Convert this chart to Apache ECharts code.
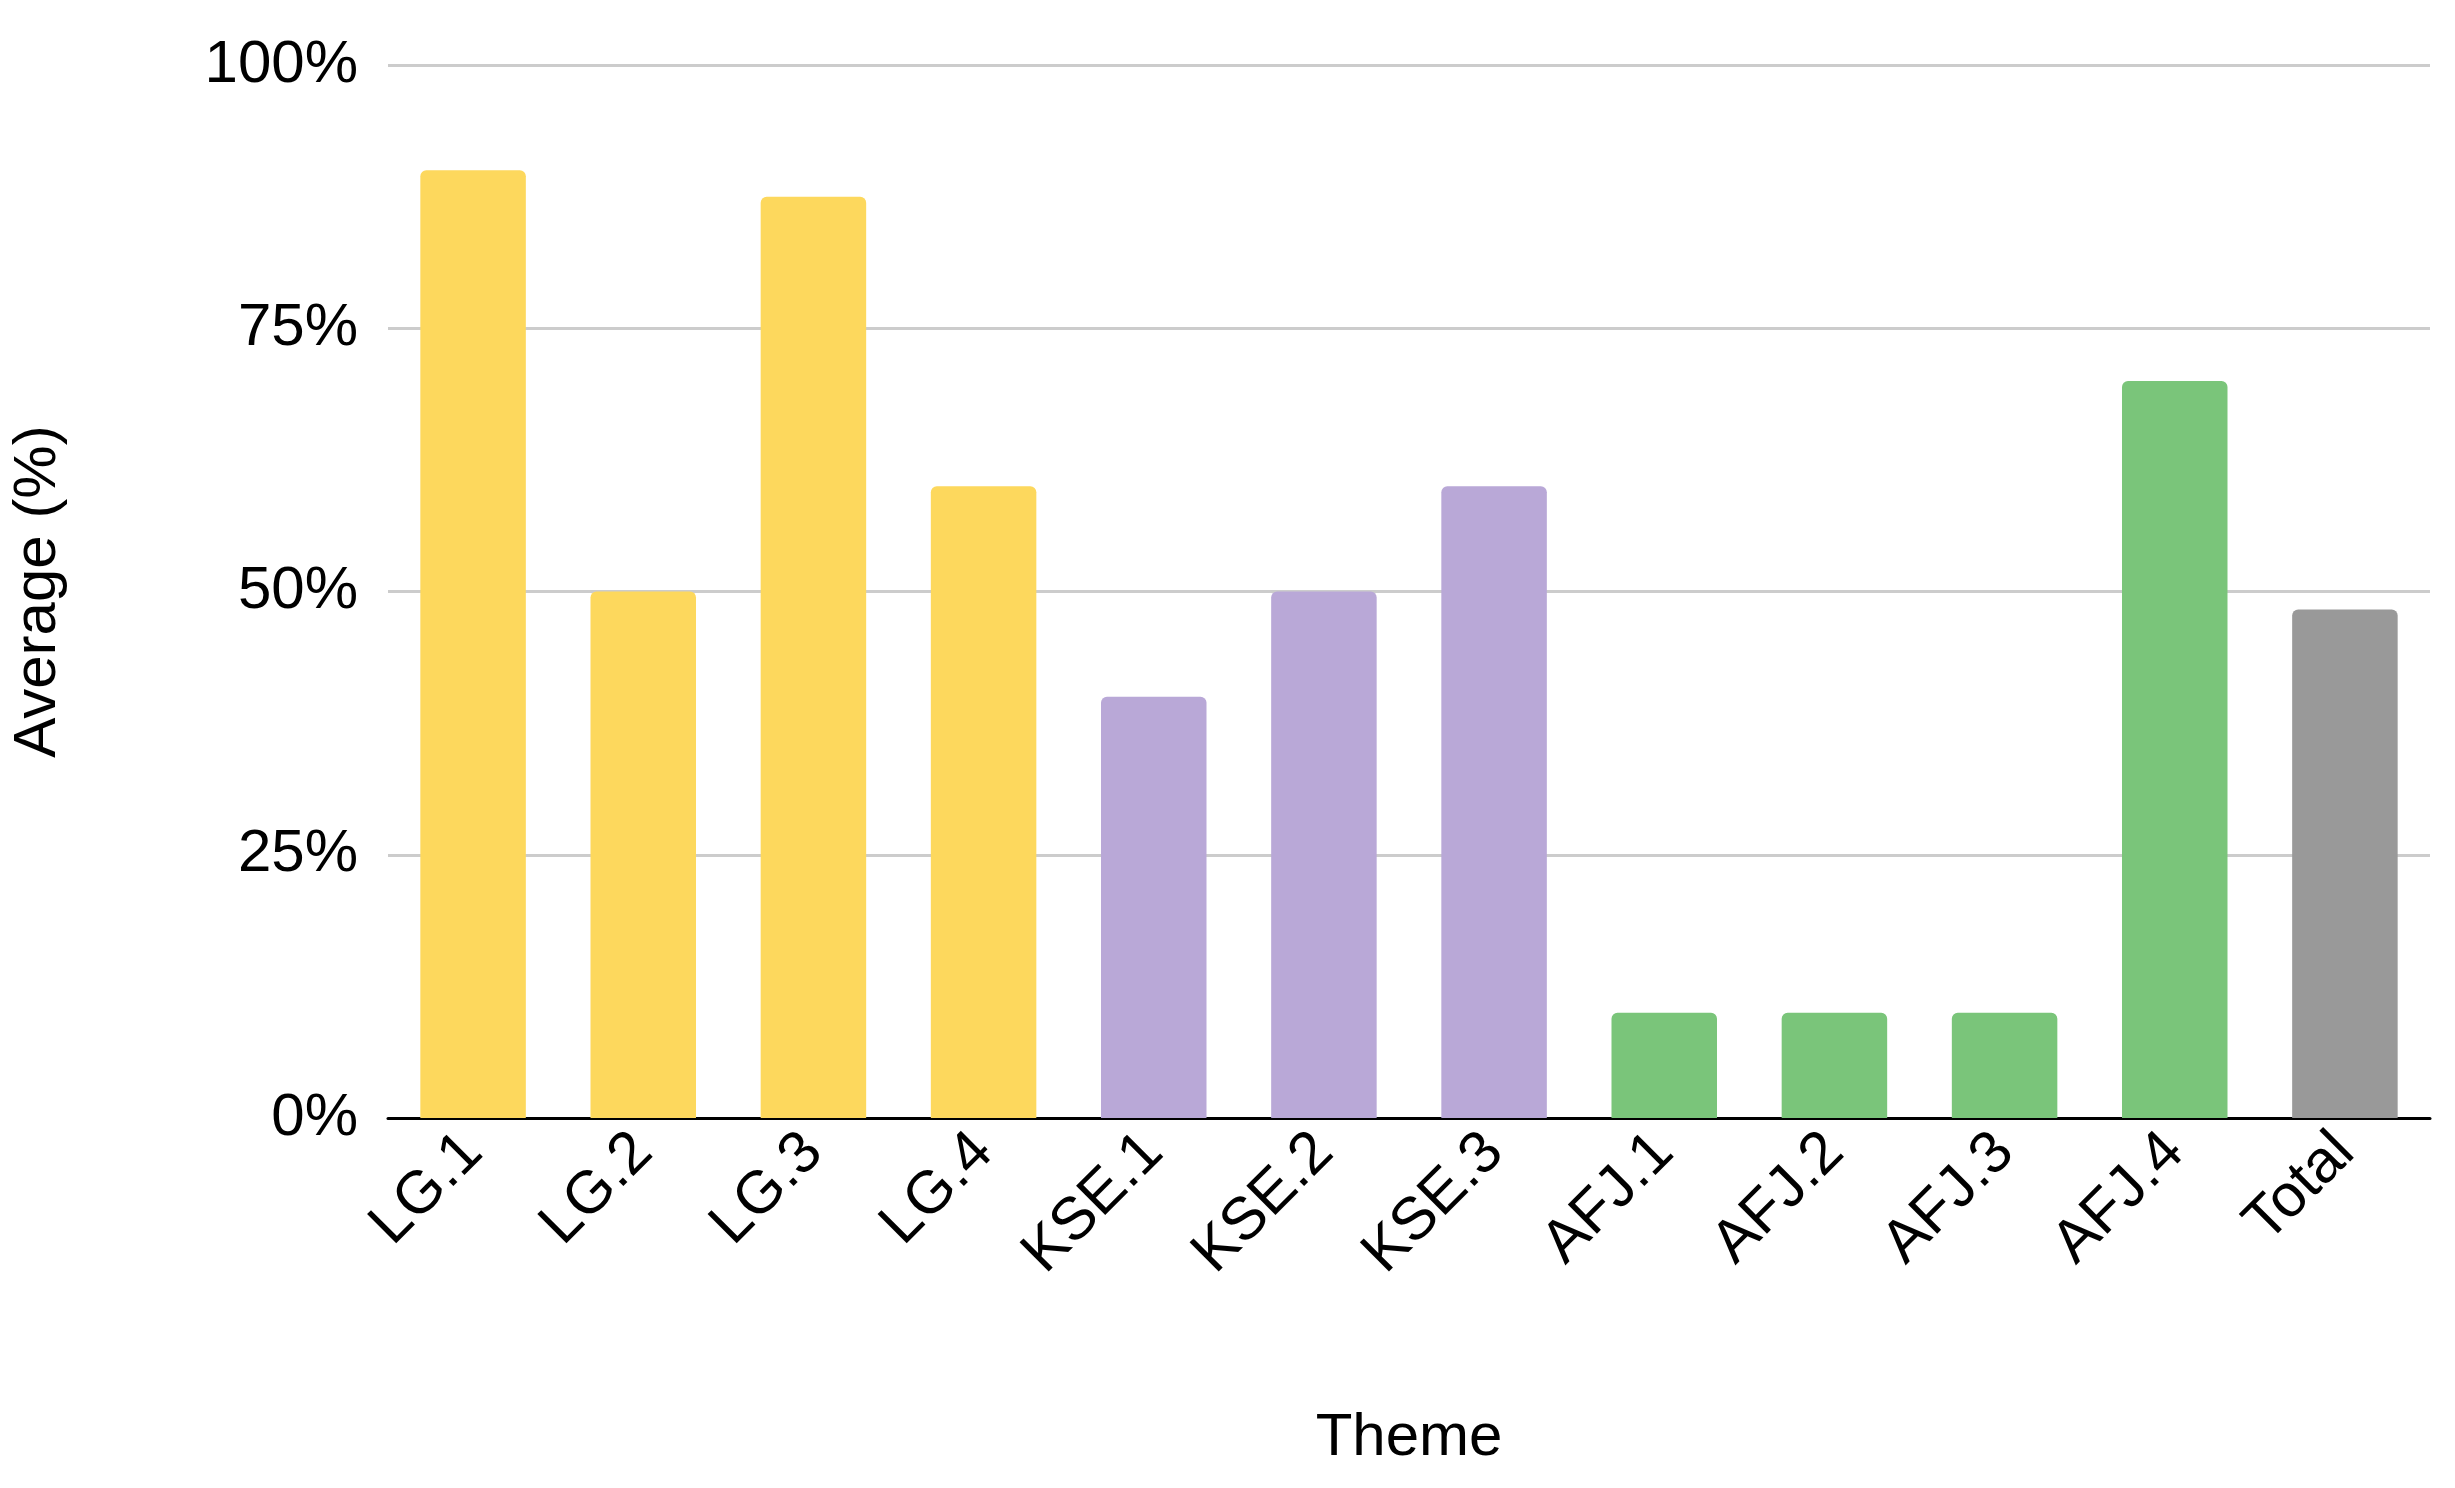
<!DOCTYPE html>
<html><head><meta charset="utf-8">
<script src="https://cdn.jsdelivr.net/npm/echarts@6/dist/echarts.min.js"></script>
<style>html,body{margin:0;background:#fff}#c{width:2455px;height:1488px}</style>
</head><body><div id="c"></div>
<script>
"use strict";
const CATEGORIES = ["LG.1","LG.2","LG.3","LG.4","KSE.1","KSE.2","KSE.3","AFJ.1","AFJ.2","AFJ.3","AFJ.4","Total"];
const VALUES = [90, 50, 87.5, 60, 40, 50, 60, 10, 10, 10, 70, 48.3];
const COLORS = ["#fdd85d","#fdd85d","#fdd85d","#fdd85d","#b9a8d7","#b9a8d7","#b9a8d7","#7ac57a","#7ac57a","#7ac57a","#7ac57a","#999999"];
const Y_TICKS = [0, 25, 50, 75, 100];

const FONT = "Liberation Sans, Arial, sans-serif";
const chart = echarts.init(document.getElementById("c"));
chart.setOption({
  animation: false,
  textStyle: { fontFamily: FONT },
  grid: { left: 375, right: 25, top: 65, bottom: 370, containLabel: false },
  xAxis: {
    type: "category", data: CATEGORIES,
    name: "Theme", nameLocation: "middle", nameGap: 290,
    nameTextStyle: { fontSize: 60, color: "#000", fontFamily: FONT },
    axisTick: { show: false },
    axisLine: { lineStyle: { color: "#000", width: 3 } },
    axisLabel: { rotate: 45, fontSize: 60, color: "#000", margin: 25, interval: 0, fontFamily: FONT }
  },
  yAxis: {
    type: "value", min: Y_TICKS[0], max: Y_TICKS[Y_TICKS.length - 1], interval: 25,
    name: "Average (%)", nameLocation: "middle", nameGap: 320, nameRotate: 90,
    nameTextStyle: { fontSize: 60, color: "#000", fontFamily: FONT },
    axisLabel: { formatter: v => v + "%", fontSize: 60, color: "#000", margin: 30, fontFamily: FONT },
    splitLine: { lineStyle: { color: "#cccccc", width: 3 } }
  },
  series: [{
    type: "bar", barCategoryGap: "38%",
    data: VALUES.map((v, i) => ({ value: v, itemStyle: { color: COLORS[i], borderRadius: [6, 6, 0, 0] } }))
  }]
});
</script></body></html>
